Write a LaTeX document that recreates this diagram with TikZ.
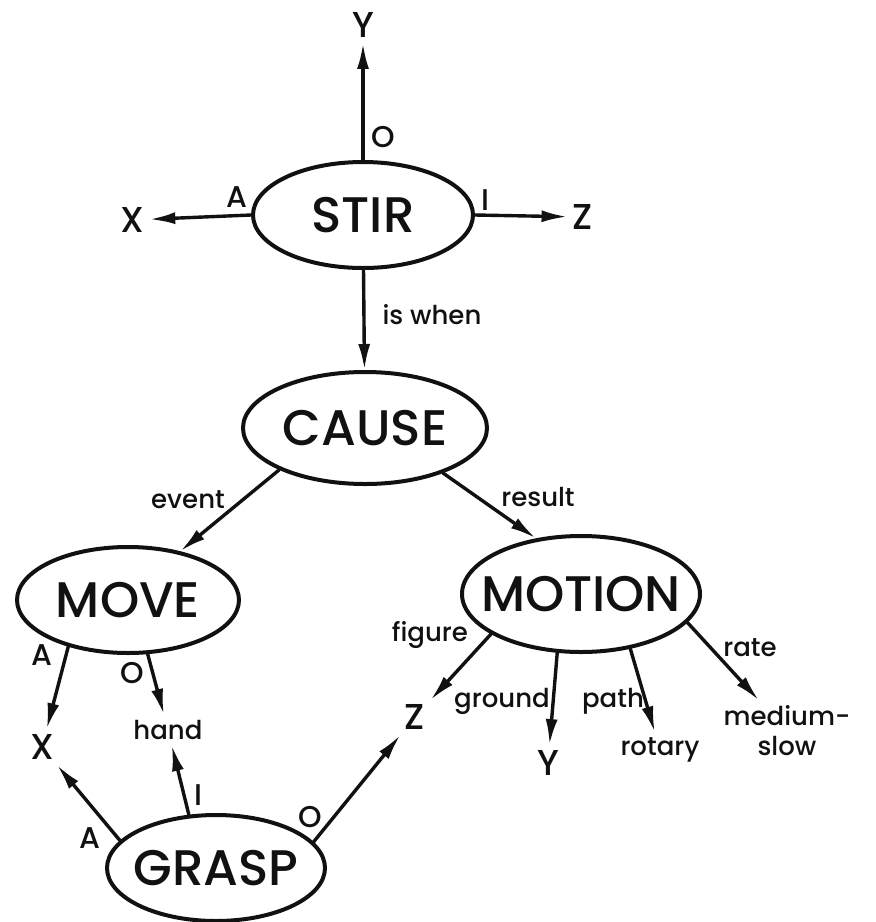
\documentclass[tikz,border=0pt]{standalone}
\usepackage{fontspec}
\setmainfont{Poppins}[UprightFont=* Medium]
\usetikzlibrary{arrows.meta,shapes.geometric}
\definecolor{ink}{HTML}{111111}
\newcommand{\cname}[1]{\makebox[0pt]{#1}}

\tikzset{
  concept/.style={ellipse,draw=ink,line width=2pt,inner sep=0pt,text=ink,
    font=\fontsize{25}{30}\selectfont},
  leaf/.style={inner sep=2.5pt,text=ink,font=\fontsize{18}{21}\selectfont},
  word/.style={inner sep=2.5pt,text=ink,font=\fontsize{13}{15}\selectfont},
  role/.style={inner sep=0pt,text=ink,font=\fontsize{15}{18}\selectfont},
  arr/.style={draw=ink,line width=1.7pt,-{Latex[length=13pt,width=6pt]}}
}

\begin{document}
\begin{tikzpicture}[x=0.5pt,y=-0.5pt,line cap=round,line join=round]
    \useasboundingbox (0,0) rectangle (875,922);
    % concepts
    \node[concept,minimum width=110pt,minimum height=53pt] (stir) at (363,215) {\cname{STIR}};
    \node[concept,minimum width=122pt,minimum height=56pt] (cause) at (365,428) {\cname{CAUSE}};
    \node[concept,minimum width=111pt,minimum height=53pt] (move) at (128,600) {\cname{MOVE}};
    \node[concept,minimum width=119pt,minimum height=58pt] (motion) at (581,594) {\cname{MOTION}};
    \node[concept,minimum width=109pt,minimum height=53pt] (grasp) at (216,868) {\cname{GRASP}};
    % fillers
    \node[leaf] (stirY) at (363,25) {Y};
    \node[leaf] (stirX) at (132,220) {X};
    \node[leaf] (stirZ) at (583,217) {Z};
    \node[leaf] (moveX) at (42,747) {X};
    \node[word] (hand) at (168,730) {hand};
    \node[leaf] (figZ) at (415,717) {Z};
    \node[leaf] (groundY) at (548,763) {Y};
    \node[word] (rotary) at (660,750) {rotary};
    \node[word,align=center] (medslow) at (787,731) {medium-\\slow};
    % links
    \draw[arr] (stir.north) -- (stirY);
    \draw[arr] (stir.west) -- (stirX);
    \draw[arr] (stir.east) -- (stirZ);
    \draw[arr] (stir) -- (cause);
    \draw[arr] (cause.-154) -- (move.43);
    \draw[arr] (cause.-30) -- (motion.129);
    \draw[arr] (move.-142) -- (moveX);
    \draw[arr] (move.-70) -- (hand);
    \draw[arr] (grasp.164) -- (moveX);
    \draw[arr] (grasp.117) -- (hand);
    \draw[arr] (grasp.15) -- (figZ);
    \draw[arr] (motion.204) -- (figZ);
    \draw[arr] (motion.-112) -- (groundY);
    \draw[arr] (motion.-48) -- (rotary);
    \draw[arr] (motion.-15) -- (medslow);
    % link labels
    \node[role] (stirO) at (383,137) {O};
    \node[role] (stirA) at (237,197) {A};
    \node[role] (stirI) at (485,200) {I};
    \node[word] (isWhen) at (432,315) {is when};
    \node[word] (event) at (188,500) {event};
    \node[word] (result) at (538,497) {result};
    \node[role] (moveA) at (42,655) {A};
    \node[role] (moveO) at (132,673) {O};
    \node[role] (graspA) at (90,838) {A};
    \node[role] (graspI) at (198,795) {I};
    \node[role] (graspO) at (310,817) {O};
    \node[word] (figure) at (430,635) {figure};
    \node[word] (ground) at (502,701) {ground};
    \node[word] (path) at (613,701) {path};
    \node[word] (rate) at (750,648) {rate};
  \end{tikzpicture}
\end{document}
